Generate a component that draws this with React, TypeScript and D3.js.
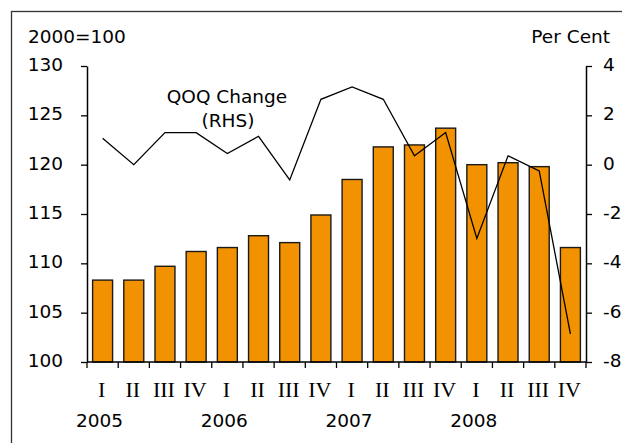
import { useEffect, useRef } from "react";
import * as d3 from "d3";

const quarters = ["I", "II", "III", "IV", "I", "II", "III", "IV", "I", "II", "III", "IV", "I", "II", "III", "IV"];
const years = ["2005", "2006", "2007", "2008"];
const indexValues = [108.3, 108.3, 109.7, 111.2, 111.6, 112.8, 112.1, 114.9, 118.5, 121.8, 122.0, 123.7, 120.0, 120.2, 119.8, 111.6];
const qoqChange = [1.07, 0.0, 1.3, 1.3, 0.45, 1.15, -0.62, 2.65, 3.15, 2.65, 0.36, 1.3, -2.99, 0.36, -0.25, -6.86];
const leftTicks = [100, 105, 110, 115, 120, 125, 130];
const rightTicks = [-8, -6, -4, -2, 0, 2, 4];

const W = 622;
const H = 443;
const SANS = "Tahoma, 'DejaVu Sans', sans-serif";
const SERIF = "'Times New Roman', 'Liberation Serif', serif";
const FS = 18.5;

const App = (): JSX.Element => {
  const svgRef = useRef<SVGSVGElement | null>(null);

  useEffect(() => {
    if (!svgRef.current) return;
    const svg = d3.select(svgRef.current);
    svg.selectAll("*").remove();

    const margin = { top: 66, left: 87, right: 36, bottom: 81 };
    const plotW = W - margin.left - margin.right;
    const plotH = H - margin.top - margin.bottom;

    // outer frame (right/bottom edges run off the page)
    svg
      .append("rect")
      .attr("x", 11.5)
      .attr("y", 11.5)
      .attr("width", W + 20)
      .attr("height", H + 20)
      .attr("fill", "white")
      .attr("stroke", "#333")
      .attr("stroke-width", 1.3);

    const g = svg.append("g").attr("transform", `translate(${margin.left},${margin.top})`);

    const x = d3
      .scaleBand<number>()
      .domain(d3.range(quarters.length))
      .range([0, plotW])
      .paddingInner(0.36)
      .paddingOuter(0.18);
    const step = x.step();
    const xc = (i: number) => (x(i) || 0) + x.bandwidth() / 2;

    const yL = d3.scaleLinear().domain([100, 130]).range([plotH, 0]);
    const yR = d3.scaleLinear().domain([-8, 4]).range([plotH, 0]);

    // bars
    g.selectAll("rect.bar")
      .data(indexValues)
      .enter()
      .append("rect")
      .attr("class", "bar")
      .attr("x", (_, i) => x(i) || 0)
      .attr("y", (d) => yL(d))
      .attr("width", x.bandwidth())
      .attr("height", (d) => plotH - yL(d))
      .attr("fill", "#F39200")
      .attr("stroke", "#1a1a1a")
      .attr("stroke-width", 1.4);

    // line
    const line = d3
      .line<number>()
      .x((_, i) => xc(i))
      .y((d) => yR(d));
    g.append("path")
      .datum(qoqChange)
      .attr("d", line)
      .attr("fill", "none")
      .attr("stroke", "#000")
      .attr("stroke-width", 1.3);

    // left axis
    const left = g.append("g").call(
      d3
        .axisLeft(yL)
        .tickValues(leftTicks)
        .tickFormat((d) => String(d))
        .tickSize(6)
        .tickPadding(18)
        .tickSizeOuter(0)
    );
    // right axis
    const right = g
      .append("g")
      .attr("transform", `translate(${plotW},0)`)
      .call(
        d3
          .axisRight(yR)
          .tickValues(rightTicks)
          .tickFormat((d) => String(d))
          .tickSize(6)
          .tickPadding(11)
          .tickSizeOuter(0)
      );
    right.selectAll(".tick text").attr("x", 17);

    [left, right].forEach((ax) => {
      ax.select(".domain").attr("stroke", "#000").attr("stroke-width", 1.5);
      ax.selectAll(".tick line").attr("stroke", "#000").attr("stroke-width", 1.3);
      ax.selectAll("text")
        .attr("font-family", SANS)
        .attr("font-size", FS)
        .attr("dy", "0.25em")
        .attr("fill", "#000");
    });

    // bottom axis line + ticks at band boundaries
    g.append("line")
      .attr("x1", 0)
      .attr("x2", plotW)
      .attr("y1", plotH)
      .attr("y2", plotH)
      .attr("stroke", "#000")
      .attr("stroke-width", 1.5);
    g.selectAll("line.xtick")
      .data(d3.range(quarters.length + 1))
      .enter()
      .append("line")
      .attr("class", "xtick")
      .attr("x1", (d) => d * step)
      .attr("x2", (d) => d * step)
      .attr("y1", plotH)
      .attr("y2", plotH + 6)
      .attr("stroke", "#000")
      .attr("stroke-width", 1.3);

    g.selectAll("text.q")
      .data(quarters)
      .enter()
      .append("text")
      .attr("class", "q")
      .attr("x", (_, i) => xc(i) - 1)
      .attr("y", plotH + 35)
      .attr("text-anchor", "middle")
      .attr("font-family", SERIF)
      .attr("font-size", 22)
      .text((d) => d);

    g.selectAll("text.yr")
      .data(years)
      .enter()
      .append("text")
      .attr("class", "yr")
      .attr("x", (_, i) => xc(i * 4) - 3)
      .attr("y", plotH + 65)
      .attr("text-anchor", "middle")
      .attr("font-family", SANS)
      .attr("font-size", FS)
      .text((d) => d);

    // titles
    svg
      .append("text")
      .attr("x", 28)
      .attr("y", 43)
      .attr("font-family", SANS)
      .attr("font-size", FS)
      .text("2000=100");
    svg
      .append("text")
      .attr("x", 610)
      .attr("y", 43)
      .attr("text-anchor", "end")
      .attr("font-family", SANS)
      .attr("font-size", FS)
      .text("Per Cent");

    const note = svg
      .append("text")
      .attr("text-anchor", "middle")
      .attr("font-family", SANS)
      .attr("font-size", FS);
    note.append("tspan").attr("x", 227).attr("y", 103).text("QOQ Change");
    note.append("tspan").attr("x", 228).attr("y", 127).text("(RHS)");
  }, []);

  return (
    <svg
      ref={svgRef}
      width={W}
      height={H}
      style={{ position: "fixed", left: 0, top: 0, display: "block", overflow: "hidden" }}
    />
  );
};

export default App;
